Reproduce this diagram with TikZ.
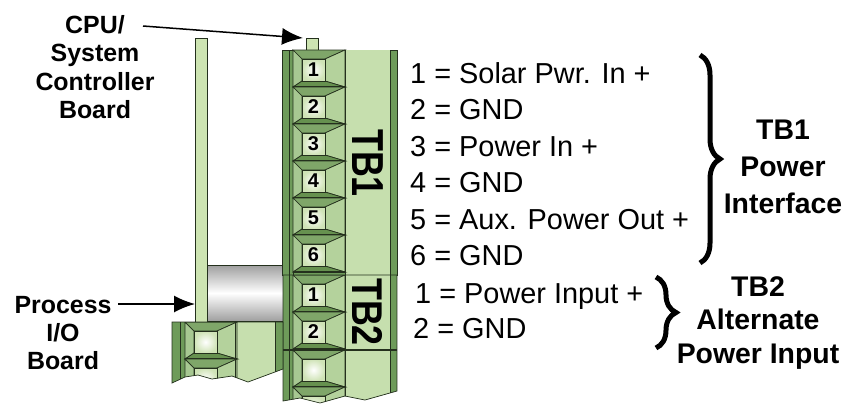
\documentclass[tikz,border=0pt]{standalone}
\usepackage{fontspec}
\setmainfont{Liberation Sans}
\usetikzlibrary{arrows.meta,decorations.pathreplacing}

\definecolor{tbdark}{HTML}{6E9B5A}
\definecolor{tblight}{HTML}{C6DFAE}
\definecolor{tbplate}{HTML}{CDE4B2}
\definecolor{tbtop}{HTML}{7FA669}
\definecolor{tbleft}{HTML}{A7C892}
\definecolor{tbright}{HTML}{B4D29C}
\definecolor{tbbot}{HTML}{66914F}
\definecolor{tbhole}{HTML}{CFE3B6}
\definecolor{tbline}{HTML}{24301D}

\tikzset{
	edge/.style    = {draw=tbline, line width=0.7bp},
	board/.style   = {draw=tbline, fill=tbplate, line width=1bp, inner sep=0pt, outer sep=0pt},
	callout/.style = {line width=1.5bp, -{Latex[length=21bp,width=17bp]}},
	tbbrace/.style = {decorate, decoration={brace, amplitude=20bp}, line width=5bp},
	lbl/.style     = {font=\bfseries\fontsize{25}{28.5}\selectfont, inner sep=0pt, align=center},
	desc/.style    = {inner sep=0pt, align=center},
	pin/.style     = {font=\fontsize{29}{29}\selectfont, inner sep=0pt, anchor=base west},
	tblabel/.style = {font=\bfseries\fontsize{36}{36}\selectfont, inner sep=0pt, rotate=-90}
}

% one screw cell of a terminal block: x, y (top left), number, name
\newcommand{\screwcell}[4]{%
	\begin{scope}[shift={(#1,#2)}]
		\filldraw[edge, fill=tbtop]   (0,0) -- (52,0) -- (32,9) -- (9,9) -- cycle;
		\filldraw[edge, fill=tbleft]  (0,0) -- (9,9) -- (9,31) -- (0,37) -- cycle;
		\filldraw[edge, fill=tbright] (52,0) -- (32,9) -- (32,31) -- (52,37) -- cycle;
		\filldraw[edge, fill=tbbot]   (0,37) -- (9,31) -- (32,31) -- (52,37) -- cycle;
		\shade[inner color=white, outer color=tbhole] (9,9) rectangle (32,31);
		\draw[edge] (9,9) rectangle (32,31);
		\draw[edge, line width=1.4bp] (0,37) -- (52,37);
		\node[font=\bfseries\fontsize{20}{20}\selectfont, inner sep=0pt] (#4) at (20.5,20) {#3};
	\end{scope}}

\begin{document}
\begin{tikzpicture}[x=1bp, y=-1bp]
	%\draw[help lines] (0,0) grid[step=50] (851,403);
	\useasboundingbox (0,0) rectangle (851,403);

	% process I/O board, standoff and CPU board tab
	\node[board, minimum width=12bp, minimum height=284bp] (ioboard) at (201,180) {};
	\shadedraw[draw=tbline, line width=0.8bp, top color=gray!75, bottom color=gray!75, middle color=white]
		(207,265) rectangle (283,321);
	\node[board, minimum width=12bp, minimum height=12bp] (tab) at (312,44) {};

	% TB1
	\filldraw[edge, fill=tbdark] (282,50) rectangle (397,275);
	\fill[tblight] (345,50) rectangle (390,275);
	\draw[edge] (289,50) -- (289,275) (293,50) -- (293,275) (390,50) -- (390,275);
	\foreach \n [evaluate=\n as \yy using 50+37*(\n-1)] in {1,...,6}
		\screwcell{293}{\yy}{\n}{tbA\n};
	\draw[edge] (345,50) -- (345,275);
	\node[tblabel] (tb1) at (368,163) {\scalebox{1}[1.25]{TB1}};

	% TB2
	\begin{scope}
		\clip (283,275) -- (397,275) -- (397,391) -- (365,400) -- (345,396) -- (320,403)
			-- (300,398) -- (283,401) -- cycle;
		\fill[tbdark] (283,275) rectangle (397,403);
		\fill[tblight] (345,275) rectangle (390,403);
		\draw[edge] (289,275) -- (289,403) (293,275) -- (293,403) (390,275) -- (390,403);
		\screwcell{293}{275}{1}{tbB1}
		\screwcell{293}{312}{2}{tbB2}
		\screwcell{293}{350}{}{tbB3}
		\screwcell{293}{387}{}{tbB4}
		\draw[edge] (345,275) -- (345,403);
		\draw[edge, line width=1.2bp] (283,350) -- (397,350);
	\end{scope}
	\draw[edge] (283,275) -- (397,275) -- (397,391) -- (365,400) -- (345,396) -- (320,403)
		-- (300,398) -- (283,401) -- cycle;
	\node[tblabel] (tb2) at (368,312) {\scalebox{1}[1.2]{TB2}};

	% process I/O connector
	\begin{scope}
		\clip (172,322) -- (283,322) -- (283,369) -- (248,382) -- (232,376) -- (212,379)
			-- (198,375) -- (185,377) -- (172,383) -- cycle;
		\fill[tbdark] (172,322) rectangle (283,390);
		\fill[tblight] (235,322) rectangle (275,390);
		\draw[edge] (180,322) -- (180,390) (185,322) -- (185,390) (275,322) -- (275,390);
		\screwcell{185}{322}{}{pcA}
		\screwcell{185}{359}{}{pcB}
		\draw[edge] (235,322) -- (235,390);
	\end{scope}
	\draw[edge] (172,322) -- (283,322) -- (283,369) -- (248,382) -- (232,376) -- (212,379)
		-- (198,375) -- (185,377) -- (172,383) -- cycle;

	% left labels
	\node[lbl] (cpulbl) at (95,67) {CPU/\\System\\Controller\\Board};
	\coordinate (cputail) at (143,26);
	\draw[callout] (cputail) -- ([xshift=-3bp]tab.north west);
	\node[lbl] (proclbl) at (63,333) {Process\\I/O\\Board};
	\coordinate (proctail) at (118,304);
	\draw[callout] (proctail) -- (proctail -| ioboard.west);

	% pin lists
	\foreach \n/\txt [evaluate=\n as \yb using 83.5+36.4*(\n-1)] in
		{1/Solar Pwr. In +, 2/GND, 3/Power In +, 4/GND, 5/Aux. Power Out +, 6/GND}
		\node[pin] (pinA\n) at (410,\yb) {\n{} = \txt};
	\node[pin] (pinB1) at (415,303.5) {1 = Power Input +};
	\node[pin] (pinB2) at (413,338.5) {2 = GND};

	% braces and block names
	\coordinate (brAtop) at (700,55);
	\coordinate (brAbot) at (700,263);
	\draw[tbbrace] (brAtop) -- (brAbot);
	\coordinate (brBtop) at (656,277);
	\coordinate (brBbot) at (656,348);
	\draw[tbbrace] (brBtop) -- (brBbot);
	\node[desc, font=\bfseries\fontsize{28.5}{37}\selectfont] (tb1desc) at (783,167) {TB1\\Power\\Interface};
	\node[desc, font=\bfseries\fontsize{28.5}{34}\selectfont] (tb2desc) at (758,323) {TB2\\Alternate\\Power Input};
\end{tikzpicture}
\end{document}
